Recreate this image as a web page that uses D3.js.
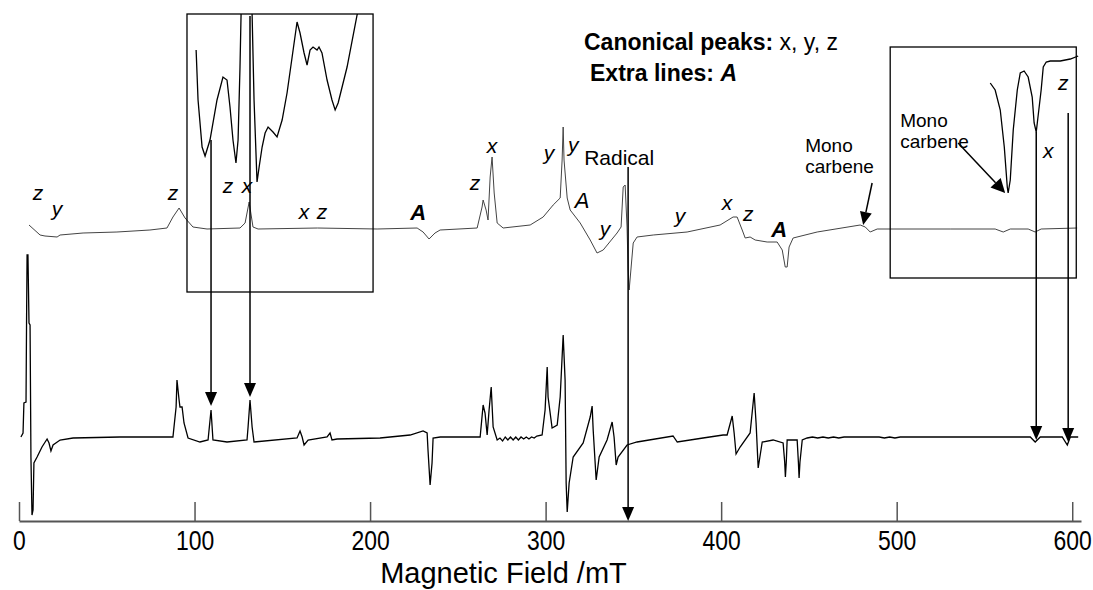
<!DOCTYPE html>
<html>
<head>
<meta charset="utf-8">
<script src="https://cdn.jsdelivr.net/npm/d3@7"></script>
<style>
  body { margin: 0; background: #fff; }
  svg { font-family: "Liberation Sans", Arial, sans-serif; }
</style>
</head>
<body>
<svg id="chart" width="1093" height="590"></svg>
<script>
// x axis ticks (mT)
const fieldTicks = [0, 100, 200, 300, 400, 500, 600];

// upper trace: [field mT, intensity]
const topSpectrum = [
  [5.7, 4], [12.0, -6], [14.8, -7], [21.7, -8], [23.4, -6], [36.5, -4], [55.8, -3], [74.6, -1],
  [84.3, 1], [87.7, 12], [91.2, 21], [94.6, 11], [99.1, 2], [107.1, 0], [125.9, 1], [128.8, 6],
  [131.1, 27], [133.3, 2], [136.2, 0], [170, 1], [204.0, 0], [226.8, 1], [230.2, -3], [233.6, -10],
  [237.0, -4], [239.9, -1], [261.0, 1], [263.8, 22], [264.4, 29], [266.1, 19], [267.2, 9],
  [268.4, 52], [269.5, 72], [270.7, 36], [272.4, 6], [275.8, 1], [291.2, 4], [298.6, 12],
  [304.3, 24], [308.3, 31], [309.4, 69], [310.0, 102], [310.5, 69], [312.3, 31], [314.0, 19],
  [319.7, 6], [325.4, -11], [329.3, -24], [332.8, -21], [340.7, -4], [343.0, 2], [344.2, 42],
  [345.3, 44], [346.4, 2], [347.0, -41], [347.6, -61], [349.9, -14], [352.1, -8], [361.3, -6],
  [380.6, -3], [399.4, 4], [406.8, 12], [409.1, 12], [412.0, -1], [413.7, -9], [416.5, -8],
  [419.4, -11], [426.2, -13], [431.9, -13], [434.8, -21], [436.5, -38], [437.6, -38], [438.7, -18],
  [441.0, -9], [454.7, -3], [479.2, 4], [482.1, 2], [484.9, -3], [488.9, 0], [530.5, 0],
  [556.1, 0], [560.7, -3], [564.7, 0], [574.9, 0], [578.9, -3], [582.3, 0], [602.8, 1]
];

// lower trace: [field mT, intensity]
const bottomSpectrum = [
  [1.1, 0], [2.3, 4], [2.8, 34], [4.0, 35], [4.3, 114], [4.6, 182], [5.1, 182], [5.7, 114],
  [6.3, 112], [6.8, -20], [7.4, -78], [8.0, -73], [8.5, -26], [10.3, -20], [13.1, -10], [16.0, -2],
  [17.1, -6], [18.2, -14], [19.4, -8], [23.4, -3], [30.8, -1], [57.5, 0], [87.7, 0], [89.5, 30],
  [90.0, 57], [91.2, 37], [91.7, 30], [92.9, 30], [94.0, 14], [96.3, -1], [103.1, -5], [107.7, -3],
  [109.4, 27], [110.5, -3], [118.5, -5], [129.9, -3], [130.5, 10], [131.6, 37], [132.8, 10],
  [133.9, -5], [158.4, -1], [160.1, 6], [161.3, 0], [162.4, -8], [164.7, -3], [175.5, 0],
  [177.2, 4], [178.3, -3], [181.2, -2], [205.7, -1], [222.8, 2], [230.2, 6], [232.5, 4],
  [233.0, -13], [234.2, -48], [235.3, -26], [235.9, -1], [240, 0], [250, 0], [262.7, 0],
  [264.4, 32], [265.5, 24], [266.7, 2], [267.8, 27], [269.0, 50], [270.1, 10], [272.4, -3],
  [274, -1], [275.5, -4], [277, 0], [278.5, -3], [280, 0], [281.5, -3], [283, 0], [284.5, -3],
  [286, 0], [287.5, -2], [289, 0], [290.5, -2], [292, 0], [293.5, -1], [295, 1], [298.0, 2],
  [299.7, 27], [300.9, 70], [301.4, 40], [303.7, 9], [306.6, 12], [308.3, 40], [310.0, 102],
  [311.1, 57], [311.7, -46], [312.3, -75], [313.4, -46], [315.7, -20], [321.4, -6], [325.4, 20],
  [326.5, 31], [327.1, 7], [328.8, -43], [330.5, -20], [335.0, -3], [337.9, 15], [339.0, 0],
  [340.2, -28], [341.3, -20], [346.4, -8], [352.1, -5], [372.6, 1], [375.0, -5], [389.7, -1],
  [401.1, 2], [403.4, 2], [406.3, 21], [407.4, 4], [408.5, -17], [410.8, -10], [416.5, 4],
  [418.8, 44], [419.9, 14], [421.1, -31], [423.4, -5], [429.6, -3], [435.3, -6], [436.2, -25],
  [436.6, -40], [437.1, -25], [437.6, -3], [443.3, -3], [444.0, -25], [444.4, -41], [444.9, -25],
  [446.2, -3], [449.0, -1], [452, 0], [455, -1], [458, 0],
  [461, -1], [464, 0], [467, -1], [470, 0], [490, 0], [493, -1], [496, 0], [499, -1], [502, 0],
  [520, 0], [576.1, 0], [578.9, -5], [581.8, 0], [594.3, 0], [597.2, -8], [598.9, 0], [603.4, 0]
];

// magnified views, same units as the upper trace
const insetLow = [
  [100.9, 179], [102.0, 129], [104.3, 82], [106.0, 73], [108.8, 89], [112.8, 129], [116.2, 152],
  [118.5, 149], [120.2, 122], [121.9, 89], [123.6, 66], [124.8, 89], [125.9, 162], [126.5, 214],
  [126.8, 240], [132.5, 240], [132.8, 214], [133.9, 129], [135.6, 47], [136.8, 62], [138.5, 82],
  [140.2, 96], [141.9, 102], [144.7, 97], [147.0, 92], [149.9, 109], [152.7, 136], [155.6, 172],
  [158.4, 207], [160.1, 196], [162.4, 176], [164.1, 164], [165.8, 179], [167.5, 182], [169.8, 179],
  [170.9, 182], [172.6, 176], [175.5, 149], [178.3, 129], [180.1, 119], [181.8, 126], [186.9, 162],
  [192.6, 214], [194.3, 225]
];
const insetHigh = [
  [553.3, 146], [556.1, 139], [559.0, 119], [561.3, 82], [563.0, 42], [563.5, 36], [564.7, 49],
  [566.4, 99], [568.7, 139], [570.4, 156], [572.6, 158], [574.9, 152], [577.2, 132], [578.3, 106],
  [579.5, 97], [580.1, 106], [582.3, 139], [583.5, 162], [585.2, 167], [587.5, 168], [593.2, 168],
  [598.9, 170], [603.4, 173]
];
// inset frames: [field from, field to, intensity top, intensity bottom]
const insetBoxes = [
  [95.7, 201.7, 215, -63],
  [496.3, 602.3, 182, -49]
];

// peak labels on the upper trace
const peakLabels = ["z", "y", "z", "z", "x", "x", "z", "A", "z", "x", "y", "y", "A", "y", "y", "x", "z", "A"];
const peakFields = [10.8, 21.7, 87.7, 119.1, 129.9, 162.4, 172.6, 227.4, 259.8, 269.5, 302.0, 315.7, 320.8, 333.9, 376.6, 403.4, 415.4, 433.0];
const peakHeights = [29, 13, 29, 36, 36, 10, 10, 9, 39, 76, 69, 77, 21, -7, 6, 19, 8, -8];
const peakBold = [0, 0, 0, 0, 0, 0, 0, 1, 0, 0, 0, 0, 0, 0, 0, 0, 0, 1];

// arrows: field, start (upper units), end (lower units)
const arrowFields = [109.4, 131.6, 347.0, 579.5, 597.7];
const arrowStarts = [89, 213, 62, 97, 116];
const arrowEnds = [31, 40, -84, -3, -5];

const svg = d3.select("#chart");

const x = d3.scaleLinear().domain([0, 605]).range([19, 1081]);
const yTop = d3.scaleLinear().domain([0, 100]).range([229, 129]);
const yBot = d3.scaleLinear().domain([0, 100]).range([437, 337]);

function drawArrow(x1, y1, x2, y2, len, half) {
  len = len || 14; half = half || 6;
  var dx = x2 - x1, dy = y2 - y1, d = Math.sqrt(dx * dx + dy * dy);
  var ux = dx / d, uy = dy / d;
  var bx = x2 - ux * len, by = y2 - uy * len;
  svg.append("line")
    .attr("x1", x1).attr("y1", y1).attr("x2", bx).attr("y2", by)
    .attr("stroke", "#000").attr("stroke-width", 1.5);
  svg.append("path")
    .attr("d", "M" + x2 + "," + y2 + "L" + (bx - uy * half) + "," + (by + ux * half) +
      "L" + (bx + uy * half) + "," + (by - ux * half) + "Z")
    .attr("fill", "#000");
}

// x axis
const axis = svg.append("g")
  .attr("transform", "translate(0,521)")
  .call(d3.axisBottom(x).tickValues(fieldTicks).tickFormat(d3.format("d"))
    .tickSizeInner(-19).tickSizeOuter(0).tickPadding(10));
axis.select(".domain").attr("stroke", "#555").attr("stroke-width", 2);
axis.selectAll(".tick line").attr("stroke", "#555").attr("stroke-width", 1.5);
// labels are narrow in the original: squeeze them a little
axis.selectAll(".tick text")
  .attr("fill", "#000")
  .attr("transform", "scale(0.85,1)")
  .style("font-size", "27px")
  .style("font-family", "'Liberation Sans', Arial, sans-serif");

svg.append("text")
  .attr("x", x(276))
  .attr("y", 583)
  .attr("text-anchor", "middle")
  .style("font-size", "29px")
  .text("Magnetic Field /mT");

// spectra
const lineTop = d3.line().x(d => x(d[0])).y(d => yTop(d[1]));
const lineBot = d3.line().x(d => x(d[0])).y(d => yBot(d[1]));

svg.append("path").datum(topSpectrum)
  .attr("d", lineTop).attr("fill", "none")
  .attr("stroke", "#444").attr("stroke-width", 1);

svg.append("path").datum(bottomSpectrum)
  .attr("d", lineBot).attr("fill", "none")
  .attr("stroke", "#000").attr("stroke-width", 1.3);

// inset frames
insetBoxes.forEach(function (b, i) {
  svg.append("clipPath").attr("id", "clip" + i)
    .append("rect")
    .attr("x", x(b[0])).attr("y", yTop(b[2]))
    .attr("width", x(b[1]) - x(b[0])).attr("height", yTop(b[3]) - yTop(b[2]));
  svg.append("rect")
    .attr("x", x(b[0])).attr("y", yTop(b[2]))
    .attr("width", x(b[1]) - x(b[0])).attr("height", yTop(b[3]) - yTop(b[2]))
    .attr("fill", "none").attr("stroke", "#000").attr("stroke-width", 1.3);
});

svg.append("path").datum(insetLow)
  .attr("d", lineTop).attr("fill", "none")
  .attr("clip-path", "url(#clip0)")
  .attr("stroke", "#000").attr("stroke-width", 1.3);

svg.append("path").datum(insetHigh)
  .attr("d", lineTop).attr("fill", "none")
  .attr("stroke", "#000").attr("stroke-width", 1.3);

// arrows between the traces
arrowFields.forEach(function (f, i) {
  drawArrow(x(f), yTop(arrowStarts[i]), x(f), yBot(arrowEnds[i]), 14, 6);
});

// peak labels
peakLabels.forEach(function (t, i) {
  svg.append("text")
    .attr("x", x(peakFields[i]))
    .attr("y", yTop(peakHeights[i]))
    .attr("text-anchor", "middle")
    .style("font-style", "italic")
    .style("font-weight", peakBold[i] ? "bold" : "normal")
    .style("font-size", t == "A" ? "22px" : "21px")
    .text(t);
});

svg.append("text")
  .attr("x", x(341.9)).attr("y", yTop(64))
  .attr("text-anchor", "middle")
  .style("font-size", "21px")
  .text("Radical");

// mono carbene notes
[[447.9, 77, 56], [502.0, 102, 81]].forEach(function (m) {
  svg.append("text").attr("x", x(m[0])).attr("y", yTop(m[1]))
    .style("font-size", "19px").text("Mono");
  svg.append("text").attr("x", x(m[0])).attr("y", yTop(m[2]))
    .style("font-size", "19px").text("carbene");
});
drawArrow(x(486.0), yTop(46), x(480.9), yTop(4), 13, 6);
drawArrow(x(535.0), yTop(86), x(561.8), yTop(36), 14, 7);

// inset peak labels
[["x", 586.3, 71], ["z", 594.9, 139]].forEach(function (p) {
  svg.append("text").attr("x", x(p[1])).attr("y", yTop(p[2]))
    .attr("text-anchor", "middle")
    .style("font-style", "italic").style("font-size", "21px")
    .text(p[0]);
});

// key
const key1 = svg.append("text").attr("x", 584).attr("y", 50).style("font-size", "23px");
key1.append("tspan").style("font-weight", "bold").text("Canonical peaks:");
key1.append("tspan").text(" x, y, z");

const key2 = svg.append("text").attr("x", 590).attr("y", 81).style("font-size", "23px");
key2.append("tspan").style("font-weight", "bold").text("Extra lines: ");
key2.append("tspan").style("font-weight", "bold").style("font-style", "italic").text("A");
</script>
</body>
</html>
